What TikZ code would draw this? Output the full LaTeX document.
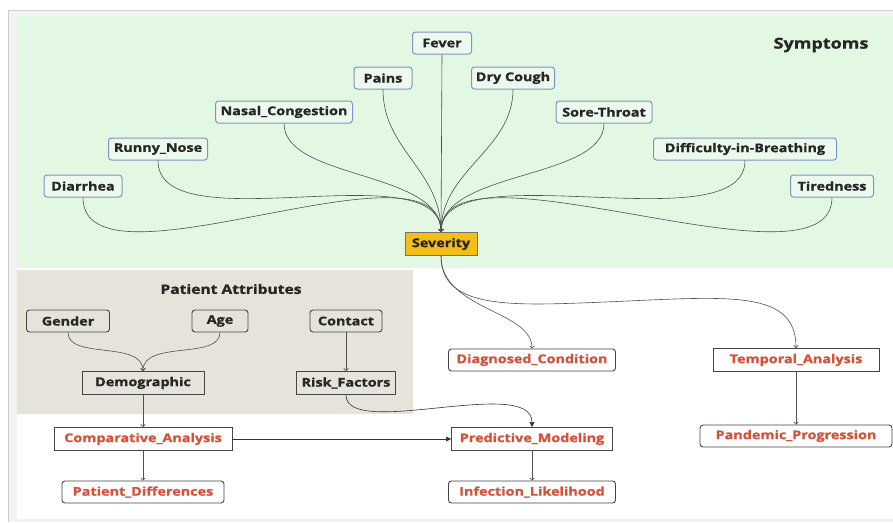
\documentclass[tikz,border=0pt]{standalone}
\usepackage{fontspec}
\setmainfont{Open Sans}[FakeStretch=1.2, FakeBold=1.2]
\usetikzlibrary{arrows.meta}
\definecolor{frameg}{HTML}{F2F2F2}
\definecolor{frameline}{HTML}{CFCFCF}
\definecolor{symbg}{HTML}{E2F8E2}
\definecolor{patbg}{HTML}{E6E3DA}
\definecolor{symb}{HTML}{7F93C2}
\definecolor{symfill}{HTML}{EEF9EE}
\definecolor{sevfill}{HTML}{F3BE16}
\definecolor{redtxt}{HTML}{D4523A}
\definecolor{darkb}{HTML}{454545}
\definecolor{linec}{HTML}{505050}
\newcommand{\nf}{\fontsize{12}{14}\selectfont\bfseries}
\begin{document}
\begin{tikzpicture}[x=1pt,y=-1pt,
  sym/.style={draw=symb, fill=symfill, rounded corners=3pt, line width=1pt, minimum height=22pt, inner xsep=2pt, inner ysep=0pt, font=\nf, text=black!85},
  sev/.style={draw=black!55, fill=sevfill, line width=0.9pt, minimum height=23pt, inner xsep=2pt, inner ysep=0pt, font=\nf, text=black!85},
  att/.style={draw=darkb, rounded corners=3pt, line width=0.9pt, minimum height=22pt, inner xsep=2pt, inner ysep=0pt, font=\nf, text=black!85},
  sq/.style={draw=darkb, line width=0.9pt, minimum height=23pt, inner xsep=2pt, inner ysep=0pt, font=\nf, text=black!85},
  rsq/.style={draw=darkb, fill=white, line width=0.9pt, minimum height=23pt, inner xsep=2pt, inner ysep=0pt, font=\nf, text=redtxt},
  rrd/.style={draw=darkb, fill=white, rounded corners=3pt, line width=0.9pt, minimum height=22pt, inner xsep=2pt, inner ysep=0pt, font=\nf, text=redtxt},
  conn/.style={draw=linec, line width=0.6pt, -{To[length=3pt,width=5pt]}},
  connf/.style={draw=black!80, line width=0.6pt, -{Triangle[length=5pt,width=5pt]}},
  title/.style={font=\fontsize{15}{17}\selectfont\bfseries, text=black!85}
]
\useasboundingbox (0,0) rectangle (893,522);
\fill[white] (0,0) rectangle (893,522);
\fill[frameg] (8,10) rectangle (893,522);
\draw[frameline, line width=0.8pt] (8,522) -- (8,10) -- (893,10);
\fill[white] (17,16) rectangle (893,519);
\fill[symbg] (17,16) rectangle (893,268);
\fill[patbg] (17,270) rectangle (413,414);

% symptoms
\node[title] (symt) at (821,45) {Symptoms};
\node[sym, minimum width=59pt] (fever) at (442,43) {Fever};
\node[sym, minimum width=58pt] (pains) at (383,78) {Pains};
\node[sym, minimum width=83pt] (dry) at (513,78) {Dry Cough};
\node[sym, minimum width=137pt] (nasal) at (284,112) {Nasal\_Congestion};
\node[sym, minimum width=96pt] (sore) at (604,112) {Sore-Throat};
\node[sym, minimum width=99pt] (runny) at (158,149) {Runny\_Nose};
\node[sym, minimum width=183pt] (diff) at (745,149) {Difficulty-in-Breathing};
\node[sym, minimum width=78pt] (diar) at (83,186) {Diarrhea};
\node[sym, minimum width=83pt] (tired) at (832,186) {Tiredness};
\node[sev, minimum width=72pt] (sev) at (441,244) {Severity};

% patient attributes
\node[title, font=\fontsize{13}{15}\selectfont\bfseries] (patt) at (231,289) {Patient Attributes};
\node[att, minimum width=83pt] (gender) at (68,321) {Gender};
\node[att, minimum width=56pt] (age) at (220,321) {Age};
\node[att, minimum width=72pt] (contact) at (346,321) {Contact};
\node[sq, minimum width=122pt] (demo) at (143,383) {Demographic};
\node[sq, minimum width=99pt] (risk) at (346,383) {Risk\_Factors};

% analyses
\node[rsq, minimum width=178pt] (comp) at (143,439) {Comparative\_Analysis};
\node[rrd, minimum width=162pt] (pdiff) at (143,492) {Patient\_Differences};
\node[rrd, minimum width=167pt] (diag) at (532,360) {Diagnosed\_Condition};
\node[rsq, minimum width=166pt] (temp) at (796,360) {Temporal\_Analysis};
\node[rrd, minimum width=192pt] (pand) at (796,436) {Pandemic\_Progression};
\node[rsq, minimum width=161pt] (pred) at (532,439) {Predictive\_Modeling};
\node[rrd, minimum width=167pt] (inf) at (532,492) {Infection\_Likelihood};

% symptom connectors
\draw[conn] (fever.south) -- (sev.north);
\draw[conn] (pains.south) .. controls (383,150) and (441,170) .. (sev.north);
\draw[conn] (dry.south) .. controls (513,150) and (441,170) .. (sev.north);
\draw[conn] (nasal.south) .. controls (284,180) and (441,170) .. (sev.north);
\draw[conn] (sore.south) .. controls (604,180) and (441,170) .. (sev.north);
\draw[conn] (runny.south) .. controls (158,245) and (441,150) .. (sev.north);
\draw[conn] (diff.south) .. controls (745,245) and (441,150) .. (sev.north);
\draw[conn] (diar.south) .. controls (83,300) and (441,130) .. (sev.north);
\draw[conn] (tired.south) .. controls (832,300) and (441,130) .. (sev.north);

% severity outputs
\draw[conn] (sev.south) .. controls (441,310) and (532,310) .. (diag.north);
\draw[conn] (sev.south) .. controls (441,305) and (500,306) .. (580,303) .. controls (720,298) and (796,285) .. (temp.north);
\draw[conn] (temp.south) -- (pand.north);

% patient attribute connectors
\draw[conn] (gender.south) .. controls (68,360) and (143,340) .. (demo.north);
\draw[conn] (age.south) .. controls (220,360) and (143,340) .. (demo.north);
\draw[conn] (contact.south) -- (risk.north);
\draw[conn] (demo.south) -- (comp.north);
\draw[conn] (comp.south) -- (pdiff.north);
\draw[connf] (comp.east) -- (pred.west);
\draw[connf] (risk.south) .. controls (346,440) and (532,375) .. (pred.north);
\draw[conn] (pred.south) -- (inf.north);
\end{tikzpicture}
\end{document}
